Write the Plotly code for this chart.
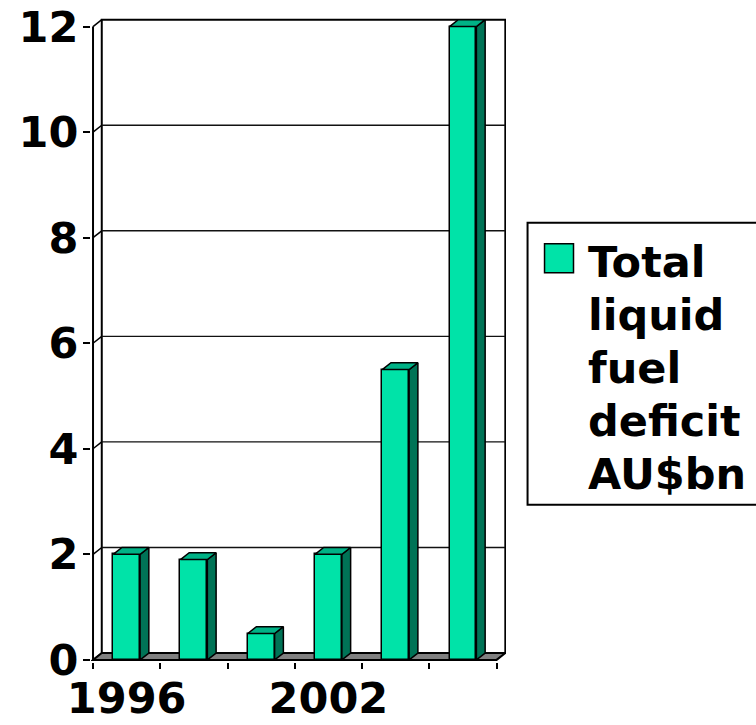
import plotly.graph_objects as go

# ---- data -------------------------------------------------------------
years = ["1996", "1998", "2000", "2002", "2004", "2006"]
deficit_bn = [2.0, 1.9, 0.5, 2.0, 5.5, 12.0]
year_ticktext = ["1996", "", "", "2002", "", ""]
y_ticks = [0, 2, 4, 6, 8, 10, 12]
legend_lines = ["Total", "liquid", "fuel", "deficit", "AU$bn"]

# ---- style ------------------------------------------------------------
FRONT = "#00E3A8"
SIDE = "#007356"
TOP = "#00B286"
FLOOR = "#808080"
FONT = "DejaVu Sans"
BAR_W = 0.40          # front-face width, in category units
DX, DY = 0.13, 0.13   # oblique depth offset (x in categories, y in AU$bn)

W, H = 756, 725
X_RANGE = [-0.53, 5.64]
Y_RANGE = [-0.04, 12.2]
PX_X, PX_Y = 67.33, 52.75
ML = 91
PW = (X_RANGE[1] - X_RANGE[0]) * PX_X
PH = (Y_RANGE[1] - Y_RANGE[0]) * PX_Y
MB = H - (660 + (0 - Y_RANGE[0]) * PX_Y)
MT = H - MB - PH
MR = W - ML - PW


def fx(px):
    return (px - ML) / PW


def fy(py):
    return (H - MB - py) / PH


xs = list(range(len(years)))
X0, X1 = -0.5, len(years) - 0.5
Y_MAX = max(y_ticks)

fig = go.Figure()

# front faces of the columns
fig.add_trace(go.Bar(
    x=xs, y=deficit_bn, width=BAR_W,
    marker=dict(color=FRONT, line=dict(color="black", width=1.5)),
    showlegend=False, hoverinfo="skip",
))

# side and top faces give each column its depth
for x, v in zip(xs, deficit_bn):
    l, r = x - BAR_W / 2, x + BAR_W / 2
    fig.add_trace(go.Scatter(
        x=[r, r + DX, r + DX, r, r], y=[0, DY, v + DY, v, 0],
        mode="lines", fill="toself", fillcolor=SIDE,
        line=dict(color="black", width=1.5),
        showlegend=False, hoverinfo="skip",
    ))
    fig.add_trace(go.Scatter(
        x=[l, l + DX, r + DX, r, l], y=[v, v + DY, v + DY, v, v],
        mode="lines", fill="toself", fillcolor=TOP,
        line=dict(color="black", width=1.5),
        showlegend=False, hoverinfo="skip",
    ))

shapes = []
# back wall
shapes.append(dict(type="rect", xref="x", yref="y", layer="below",
                   x0=X0 + DX, x1=X1 + DX, y0=DY, y1=Y_MAX + DY,
                   fillcolor="white", line=dict(color="black", width=2)))
# gridlines on the back wall and their run along the side wall
for t in y_ticks:
    if 0 < t < Y_MAX:
        shapes.append(dict(type="line", xref="x", yref="y", layer="below",
                           x0=X0 + DX, x1=X1 + DX, y0=t + DY, y1=t + DY,
                           line=dict(color="#111111", width=1.4)))
    shapes.append(dict(type="line", xref="x", yref="y", layer="below",
                       x0=X0, x1=X0 + DX, y0=t, y1=t + DY,
                       line=dict(color="black", width=1.5)))
# floor
shapes.append(dict(type="path", xref="x", yref="y", layer="below",
                   path=f"M {X0},0 L {X1},0 L {X1 + DX},{DY} L {X0 + DX},{DY} Z",
                   fillcolor=FLOOR, line=dict(color="black", width=2)))
# front value axis
shapes.append(dict(type="line", xref="x", yref="y", layer="below",
                   x0=X0, x1=X0, y0=0, y1=Y_MAX,
                   line=dict(color="black", width=2)))

# legend box with swatch
shapes.append(dict(type="rect", xref="paper", yref="paper",
                   x0=fx(528), x1=fx(762), y0=fy(505), y1=fy(223),
                   fillcolor="white", line=dict(color="black", width=2)))
shapes.append(dict(type="rect", xref="paper", yref="paper",
                   x0=fx(545), x1=fx(574), y0=fy(273), y1=fy(244),
                   fillcolor=FRONT, line=dict(color="black", width=1.5)))

annotations = []
for i, txt in enumerate(legend_lines):
    baseline = 277 + i * 53
    annotations.append(dict(
        xref="paper", yref="paper", x=fx(587), y=fy(baseline - 15),
        xanchor="left", yanchor="middle", showarrow=False, text=txt,
        font=dict(family=FONT, size=43, color="black", weight="bold"),
    ))

fig.update_layout(
    width=W, height=H,
    margin=dict(l=ML, r=MR, t=MT, b=MB, autoexpand=False),
    paper_bgcolor="white", plot_bgcolor="white",
    shapes=shapes, annotations=annotations,
    showlegend=False,
    xaxis=dict(
        range=X_RANGE, tickmode="array", tickvals=xs, ticktext=year_ticktext,
        ticks="", showgrid=False, zeroline=False, showline=False,
        ticklabelstandoff=7,
        tickfont=dict(family=FONT, size=43, color="black", weight="bold"),
        minor=dict(tickmode="array", tickvals=[x - 0.5 for x in xs] + [X1],
                   ticks="outside", ticklen=6, tickwidth=2, tickcolor="black",
                   showgrid=False),
        fixedrange=True,
    ),
    yaxis=dict(
        range=Y_RANGE, tickmode="array", tickvals=y_ticks,
        ticks="outside", ticklen=7, tickwidth=2, tickcolor="black",
        showgrid=False, zeroline=False, showline=False,
        ticklabelstandoff=-4,
        tickfont=dict(family=FONT, size=43, color="black", weight="bold"),
        fixedrange=True,
    ),
    bargap=0,
)

fig.write_html("out.html")
